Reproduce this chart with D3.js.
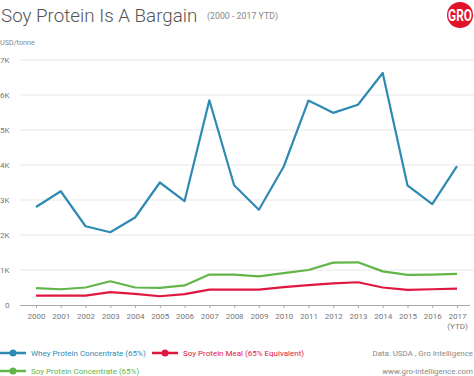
<!DOCTYPE html>
<html>
<head>
<meta charset="utf-8">
<script src="https://cdn.jsdelivr.net/npm/d3@7"></script>
<style>
  body { margin: 0; background: #fff; }
  text { font-family: Roboto, "Noto Sans", sans-serif; }
</style>
</head>
<body>
<div id="chart"></div>
<script>
// --------------------
// DATA
// --------------------
const years = ["2000","2001","2002","2003","2004","2005","2006","2007","2008",
  "2009","2010","2011","2012","2013","2014","2015","2016","2017"];

const whey = [2800, 3250, 2250, 2080, 2500, 3500, 2970, 5850, 3420,
  2720, 3950, 5840, 5490, 5720, 6630, 3420, 2880, 3970];

const soyConcentrate = [480, 450, 500, 680, 500, 490, 560, 870, 870,
  820, 910, 1000, 1210, 1220, 960, 860, 870, 890];

const soyMeal = [270, 270, 270, 370, 320, 250, 310, 440, 440,
  440, 510, 570, 620, 650, 500, 430, 450, 470];

const yTicks = [0, 1000, 2000, 3000, 4000, 5000, 6000, 7000];

const series = [
  { name: "Whey Protein Concentrate (65%)", values: whey, color: "#2f8ab3" },
  { name: "Soy Protein Meal (65% Equivalent)", values: soyMeal, color: "#e0173f" },
  { name: "Soy Protein Concentrate (65%)", values: soyConcentrate, color: "#62b548" }
];

// --------------------
// CHART
// --------------------
const width = 474;
const height = 376;

const svg = d3.select("#chart")
  .append("svg")
  .attr("width", width)
  .attr("height", height);

const x = d3.scalePoint()
  .domain(years)
  .range([36, 457]);

const y = d3.scaleLinear()
  .domain([0, 7000])
  .range([305, 60]);

// title
svg.append("text")
  .attr("x", 1).attr("y", 22)
  .attr("font-size", 18.8).attr("font-weight", 300)
  .attr("fill", "#555")
  .text("Soy Protein Is A Bargain");

svg.append("text")
  .attr("x", 207).attr("y", 19)
  .attr("font-size", 8.8)
  .attr("fill", "#888")
  .text("(2000 - 2017 YTD)");

svg.append("text")
  .attr("x", 0).attr("y", 45)
  .attr("font-size", 7.2)
  .attr("fill", "#888")
  .text("USD/tonne");

// logo
const logo = svg.append("g").attr("transform", "translate(460,15)");
logo.append("circle").attr("r", 13).attr("fill", "#e3122b");
logo.append("text")
  .attr("text-anchor", "middle").attr("y", 6)
  .attr("font-size", 17).attr("font-weight", 700)
  .attr("fill", "#fff")
  .attr("transform", "scale(0.7,1)")
  .text("GRO");

// gridlines
svg.append("g")
  .selectAll("line")
  .data(yTicks.filter(d => d > 0))
  .join("line")
  .attr("x1", 20).attr("x2", width)
  .attr("y1", d => y(d)).attr("y2", d => y(d))
  .attr("stroke", "#e8e8e8").attr("stroke-width", 1);

// y labels
svg.append("g")
  .selectAll("text")
  .data(yTicks)
  .join("text")
  .attr("x", d => d === 0 ? 5 : 0)
  .attr("y", d => y(d) + 3)
  .attr("font-size", 8)
  .attr("fill", "#777")
  .text(d => d === 0 ? "0" : (d / 1000) + "K");

// x axis
const xAxis = svg.append("g")
  .attr("transform", "translate(0,305)")
  .call(d3.axisBottom(x).tickSize(3).tickPadding(5).tickSizeOuter(0));
xAxis.select(".domain").attr("d", "M20,0.5H470").attr("stroke", "#aaa");
xAxis.selectAll(".tick line").attr("stroke", "#aaa");
xAxis.selectAll(".tick text")
  .attr("font-size", 8).attr("fill", "#777")
  .attr("font-family", "Roboto, sans-serif");
xAxis.selectAll(".tick")
  .filter(d => d === "2017")
  .append("text")
  .attr("y", 18).attr("dy", "0.71em")
  .attr("text-anchor", "middle")
  .attr("font-size", 8).attr("fill", "#777")
  .attr("font-family", "Roboto, sans-serif")
  .text("(YTD)");

// lines
const line = d3.line()
  .x((d, i) => x(years[i]))
  .y(d => y(d));

series.slice().reverse().forEach(s => {
  svg.append("path")
    .datum(s.values)
    .attr("fill", "none")
    .attr("stroke", s.color)
    .attr("stroke-width", 2.2)
    .attr("stroke-linejoin", "round")
    .attr("d", line);
});

// legend
const legendPos = [
  { x: 0, y: 353 },
  { x: 152, y: 353 },
  { x: 0, y: 371 }
];
series.forEach((s, i) => {
  const g = svg.append("g")
    .attr("transform", `translate(${legendPos[i].x},${legendPos[i].y})`);
  g.append("line")
    .attr("x1", 0).attr("x2", 26)
    .attr("stroke", s.color).attr("stroke-width", 2.5);
  g.append("circle")
    .attr("cx", 13).attr("r", 3.5)
    .attr("fill", s.color);
  g.append("text")
    .attr("x", 31).attr("y", 3)
    .attr("font-size", 8)
    .attr("fill", s.color)
    .text(s.name);
});

svg.append("text")
  .attr("x", 473).attr("y", 356)
  .attr("text-anchor", "end")
  .attr("font-size", 7.9).attr("fill", "#888")
  .text("Data: USDA , Gro Intelligence");

svg.append("text")
  .attr("x", 473).attr("y", 374)
  .attr("text-anchor", "end")
  .attr("font-size", 7.9).attr("fill", "#888")
  .text("www.gro-intelligence.com");
</script>
</body>
</html>
